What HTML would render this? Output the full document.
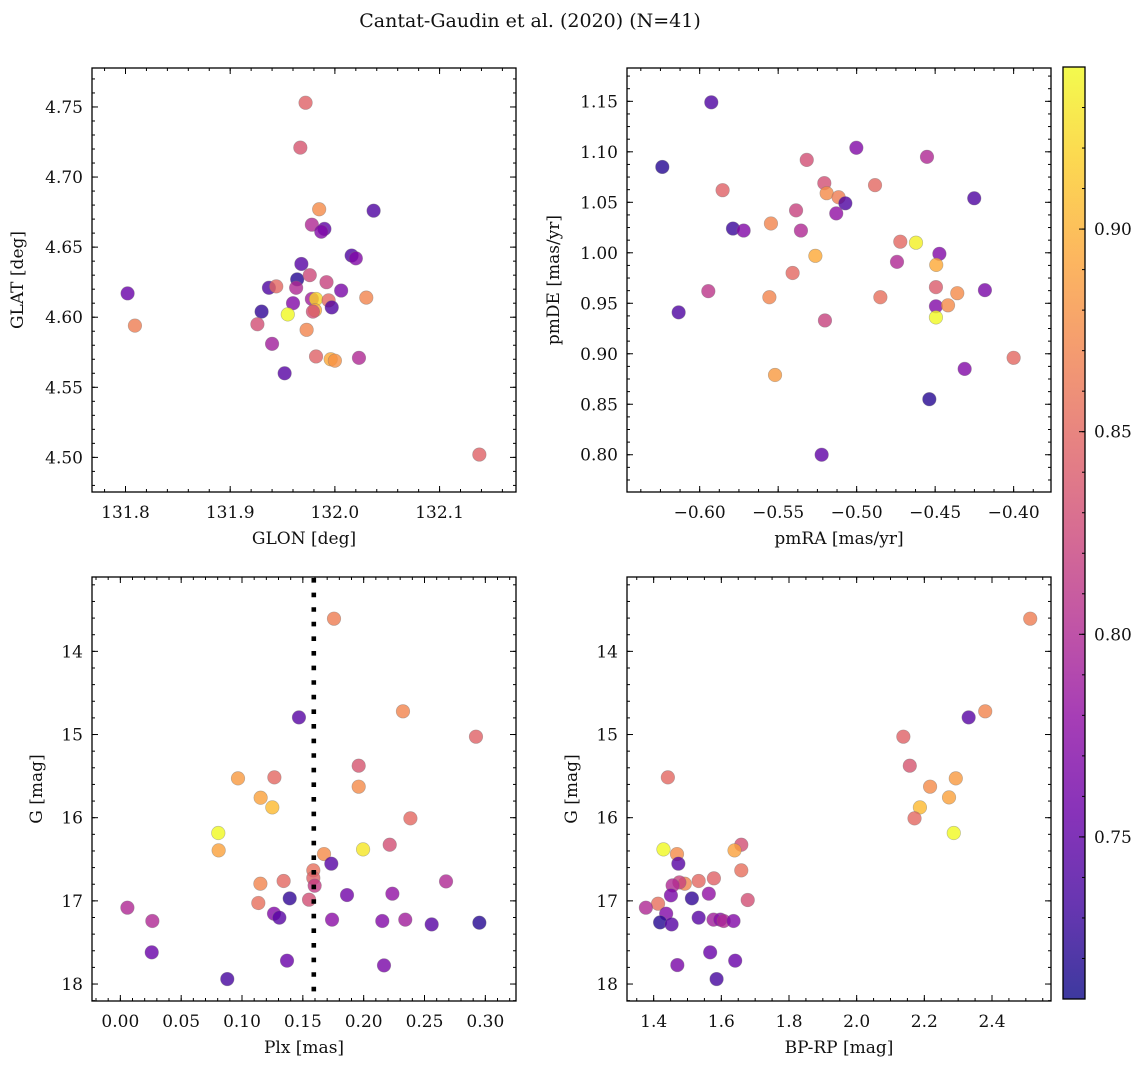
<!DOCTYPE html>
<html><head><meta charset="utf-8"><style>
html,body{margin:0;padding:0;background:#fff;}
svg{display:block;font-family:"DejaVu Serif","Liberation Serif",serif;}
</style></head><body>
<svg id="fig" width="1148" height="1067" viewBox="0 0 1148 1067" xmlns="http://www.w3.org/2000/svg">
<text x="530" y="27" font-size="19" text-anchor="middle" fill="#111">Cantat-Gaudin et al. (2020) (N=41)</text>
<g id="layer"></g>
</svg>
<script>
// Panel 1: GLON vs GLAT
const glon=[131.972,131.967,131.985,132.037,131.978,131.990,131.987,132.016,132.020,131.802,131.809,131.968,131.964,131.976,131.937,131.944,131.963,131.992,132.006,132.030,131.978,131.982,131.994,131.997,131.960,131.981,131.979,131.930,131.955,131.926,131.973,131.940,131.982,131.996,132.000,132.023,131.952,132.138];
const glat=[4.753,4.721,4.677,4.676,4.666,4.663,4.661,4.644,4.642,4.617,4.594,4.638,4.627,4.630,4.621,4.622,4.621,4.625,4.619,4.614,4.613,4.613,4.612,4.607,4.610,4.605,4.604,4.604,4.602,4.595,4.591,4.581,4.572,4.570,4.569,4.571,4.560,4.502];
const c1=[0.845,0.835,0.875,0.74,0.80,0.75,0.77,0.74,0.77,0.755,0.865,0.745,0.72,0.825,0.74,0.85,0.80,0.82,0.765,0.87,0.79,0.92,0.85,0.74,0.77,0.895,0.83,0.725,0.94,0.83,0.87,0.79,0.845,0.895,0.88,0.80,0.745,0.845];
// Panel 2: pmRA vs pmDE
const pmra=[-0.5926,-0.6238,-0.5002,-0.5318,-0.4552,-0.5854,-0.5206,-0.5191,-0.5115,-0.5072,-0.4883,-0.4251,-0.5386,-0.5130,-0.5788,-0.5720,-0.5355,-0.5546,-0.5263,-0.4722,-0.4622,-0.4473,-0.4743,-0.4493,-0.5408,-0.5945,-0.5556,-0.4849,-0.4495,-0.4359,-0.4183,-0.4495,-0.4418,-0.4495,-0.6134,-0.5202,-0.4000,-0.4312,-0.5520,-0.4537,-0.5223];
const pmde=[1.149,1.085,1.104,1.092,1.095,1.062,1.069,1.059,1.055,1.049,1.067,1.054,1.042,1.039,1.024,1.022,1.022,1.029,0.997,1.011,1.010,0.999,0.991,0.988,0.980,0.962,0.956,0.956,0.966,0.960,0.963,0.947,0.948,0.936,0.941,0.933,0.896,0.885,0.879,0.855,0.800];
const c2=[0.74,0.72,0.77,0.83,0.80,0.845,0.83,0.875,0.865,0.74,0.85,0.74,0.82,0.78,0.73,0.77,0.80,0.87,0.895,0.85,0.935,0.77,0.80,0.895,0.85,0.81,0.87,0.855,0.84,0.875,0.765,0.77,0.875,0.94,0.74,0.82,0.85,0.77,0.885,0.72,0.75];
// Panel 3: Plx vs G
const plx=[0.1756,0.1468,0.2323,0.2923,0.0967,0.1266,0.1959,0.1153,0.1249,0.1959,0.2384,0.0805,0.0808,0.2214,0.1995,0.1674,0.1734,0.1586,0.1586,0.1597,0.1151,0.1342,0.1134,0.1392,0.1551,0.1863,0.2236,0.2677,0.0058,0.0263,0.1263,0.1307,0.1740,0.2153,0.2342,0.2559,0.2951,0.0258,0.1370,0.2167,0.0879];
const gmag3=[13.607,14.794,14.721,15.026,15.527,15.515,15.375,15.760,15.876,15.627,16.008,16.184,16.393,16.325,16.381,16.437,16.553,16.633,16.725,16.818,16.794,16.761,17.026,16.970,16.986,16.930,16.914,16.766,17.082,17.242,17.154,17.202,17.226,17.242,17.226,17.283,17.263,17.619,17.719,17.776,17.940];
const c3=[0.865,0.745,0.87,0.845,0.885,0.85,0.835,0.89,0.905,0.875,0.85,0.94,0.89,0.83,0.93,0.875,0.745,0.855,0.845,0.815,0.87,0.85,0.855,0.725,0.83,0.76,0.78,0.80,0.80,0.80,0.77,0.745,0.775,0.77,0.79,0.745,0.72,0.755,0.755,0.765,0.735];
const plxRef=[0.159];
// Panel 4: BP-RP vs G
const bprp=[2.513,2.380,2.331,2.138,1.442,2.157,2.293,2.217,2.273,2.187,2.171,2.287,1.429,1.469,1.659,1.639,1.473,1.659,1.578,1.533,1.492,1.476,1.456,1.563,1.451,1.513,1.678,1.413,1.377,1.437,1.533,1.577,1.597,1.607,1.636,1.419,1.453,1.567,1.641,1.470,1.586];
const gmag4=[13.607,14.721,14.794,15.026,15.515,15.375,15.527,15.627,15.756,15.876,16.008,16.184,16.381,16.437,16.325,16.393,16.553,16.633,16.729,16.761,16.794,16.778,16.814,16.914,16.934,16.970,16.990,17.034,17.082,17.154,17.202,17.226,17.226,17.242,17.242,17.259,17.283,17.619,17.719,17.772,17.940];
const c4=[0.865,0.87,0.745,0.845,0.85,0.835,0.885,0.875,0.89,0.905,0.85,0.94,0.94,0.875,0.83,0.89,0.745,0.855,0.845,0.85,0.87,0.82,0.80,0.78,0.765,0.725,0.83,0.855,0.80,0.77,0.745,0.79,0.775,0.80,0.77,0.72,0.745,0.755,0.755,0.765,0.735];
// Tick labels
const ticks1x=[131.8,131.9,132.0,132.1], ticks1y=[4.50,4.55,4.60,4.65,4.70,4.75];
const ticks2x=[-0.60,-0.55,-0.50,-0.45,-0.40], ticks2y=[0.80,0.85,0.90,0.95,1.00,1.05,1.10,1.15];
const ticks3x=[0,0.05,0.10,0.15,0.20,0.25,0.30], ticksGy=[14,15,16,17,18];
const ticks4x=[1.4,1.6,1.8,2.0,2.2,2.4];
const cbTicks=[0.75,0.80,0.85,0.90];
const cMin=0.710, cMax=0.940;

const NS='http://www.w3.org/2000/svg';
const layer=document.getElementById('layer');
function mk(tag,attrs,parent){const e=document.createElementNS(NS,tag);for(const k in attrs)e.setAttribute(k,attrs[k]);(parent||layer).appendChild(e);return e;}
const plasma=[[13,8,135],[65,4,157],[106,0,168],[143,13,164],[177,42,144],[204,71,120],[225,100,98],[242,132,75],[252,166,54],[252,206,37],[240,249,33]];
function cmap(v){let t=(v-cMin)/(cMax-cMin);t=Math.max(0,Math.min(1,t))*10;const i=Math.min(9,Math.floor(t)),f=t-i;const a=plasma[i],b=plasma[i+1];return 'rgb('+[0,1,2].map(k=>Math.round(a[k]+(b[k]-a[k])*f)).join(',')+')';}
function fmt(v,d){const s=Math.abs(v).toFixed(d);return (v<0?'\u2212':'')+s;}

function panel(o){
  const g=mk('g',{});
  
  
  const sx=v=>o.x0+(v-o.xmin)/(o.xmax-o.xmin)*(o.x1-o.x0);
  const sy=o.invert?(v=>o.y0+(v-o.ymin)/(o.ymax-o.ymin)*(o.y1-o.y0)):(v=>o.y1-(v-o.ymin)/(o.ymax-o.ymin)*(o.y1-o.y0));
  // minor ticks
  const tk=mk('g',{stroke:'#000','stroke-width':1},g);
  
  
  const first=(step,min)=>Math.ceil(min/step-1e-9)*step;
  for(let v=first(o.xminor,o.xmin);v<=o.xmax+1e-9;v+=o.xminor){const x=sx(v);mk('line',{x1:x,x2:x,y1:o.y1,y2:o.y1-3},tk);mk('line',{x1:x,x2:x,y1:o.y0,y2:o.y0+3},tk);}
  for(let v=first(o.yminor,o.ymin);v<=o.ymax+1e-9;v+=o.yminor){const y=sy(v);mk('line',{x1:o.x0,x2:o.x0+3,y1:y,y2:y},tk);mk('line',{x1:o.x1,x2:o.x1-3,y1:y,y2:y},tk);}
  o.xt.forEach(v=>{const x=sx(v);mk('line',{x1:x,x2:x,y1:o.y1,y2:o.y1-6},tk);mk('line',{x1:x,x2:x,y1:o.y0,y2:o.y0+6},tk);
    const t=mk('text',{x:x,y:o.y1+26,'font-size':17,'text-anchor':'middle',fill:'#111'},g);t.textContent=fmt(v,o.xd);
    
    });
  o.yt.forEach(v=>{const y=sy(v);mk('line',{x1:o.x0,x2:o.x0+6,y1:y,y2:y},tk);mk('line',{x1:o.x1,x2:o.x1-6,y1:y,y2:y},tk);
    const t=mk('text',{x:o.x0-9,y:y+6,'font-size':17,'text-anchor':'end',fill:'#111'},g);t.textContent=fmt(v,o.yd);
    
    });
  // points
  const pts=mk('g',{},g);
  
  
  o.xs.forEach((v,i)=>{const c=mk('circle',{cx:sx(v),cy:sy(o.ys[i]),r:6.8,fill:cmap(o.cs[i]),'fill-opacity':0.8,stroke:'#777','stroke-opacity':0.5,'stroke-width':0.6},pts);
    
    });
  if(o.vline){o.vline.forEach(v=>{const l=mk('line',{x1:sx(v),x2:sx(v),y1:o.y0+1,y2:o.y1,stroke:'#000','stroke-width':4.6,'stroke-dasharray':'4.6 10'},g);
    
    });}
  const fr=mk('rect',{x:o.x0,y:o.y0,width:o.x1-o.x0,height:o.y1-o.y0,fill:'none',stroke:'#000','stroke-width':1.3},g);
  
  
  const xl=mk('text',{x:(o.x0+o.x1)/2,y:o.y1+52,'font-size':17,'text-anchor':'middle',fill:'#111'},g);xl.textContent=o.xlabel;
  
  
  const yl=mk('text',{x:0,y:0,'font-size':17,'text-anchor':'middle',fill:'#111',transform:'translate('+o.ylx+','+(o.y0+o.y1)/2+') rotate(-90)'},g);yl.textContent=o.ylabel;
  
  
}
panel({name:'glon-glat-panel',x0:92,x1:516,y0:68,y1:492,xmin:131.768,xmax:132.173,ymin:4.4753,ymax:4.7778,xminor:0.02,yminor:0.01,xt:ticks1x,yt:ticks1y,xd:1,yd:2,xs:glon,ys:glat,cs:c1,xlabel:'GLON [deg]',ylabel:'GLAT [deg]',ylx:23});
panel({name:'proper-motion-panel',x0:627,x1:1051,y0:68,y1:492,xmin:-0.6463,xmax:-0.3762,ymin:0.7631,ymax:1.183,xminor:0.0125,yminor:0.0125,xt:ticks2x,yt:ticks2y,xd:2,yd:2,xs:pmra,ys:pmde,cs:c2,xlabel:'pmRA [mas/yr]',ylabel:'pmDE [mas/yr]',ylx:559});
panel({name:'plx-g-panel',x0:92,x1:516,y0:577,y1:1001,xmin:-0.0233,xmax:0.3252,ymin:13.106,ymax:18.204,invert:true,xminor:0.01,yminor:0.2,xt:ticks3x,yt:ticksGy,xd:2,yd:0,xs:plx,ys:gmag3,cs:c3,vline:plxRef,xlabel:'Plx [mas]',ylabel:'G [mag]',ylx:42});
panel({name:'cmd-panel',x0:627,x1:1051,y0:577,y1:1001,xmin:1.3212,xmax:2.5744,ymin:13.106,ymax:18.204,invert:true,xminor:0.05,yminor:0.2,xt:ticks4x,yt:ticksGy,xd:1,yd:0,xs:bprp,ys:gmag4,cs:c4,xlabel:'BP-RP [mag]',ylabel:'G [mag]',ylx:577});

// colorbar
const cb=mk('g',{});


const cbx0=1063,cbx1=1085,cby0=67,cby1=999;
const cy=v=>cby1-(v-cMin)/(cMax-cMin)*(cby1-cby0);
const defs=mk('defs',{},cb);
const grad=mk('linearGradient',{id:'plasmaGrad',x1:0,y1:1,x2:0,y2:0},defs);
plasma.forEach((p,i)=>mk('stop',{offset:(i/10),'stop-color':'rgb('+p.join(',')+')'},grad));
const cbr=mk('rect',{x:cbx0,y:cby0,width:cbx1-cbx0,height:cby1-cby0,fill:'url(#plasmaGrad)','fill-opacity':0.8},cb);


for(let v=0.72;v<=0.935;v+=0.01){const y=cy(v);mk('line',{x1:cbx1,x2:cbx1-3,y1:y,y2:y,stroke:'#000','stroke-width':1},cb);}
cbTicks.forEach(v=>{const y=cy(v);mk('line',{x1:cbx1,x2:cbx1-6,y1:y,y2:y,stroke:'#000','stroke-width':1},cb);
  const t=mk('text',{x:cbx1+9,y:y+6,'font-size':17,fill:'#111'},cb);t.textContent=v.toFixed(2);
  
  });
mk('rect',{x:cbx0,y:cby0,width:cbx1-cbx0,height:cby1-cby0,fill:'none',stroke:'#000','stroke-width':1.3},cb);
</script>
</body></html>
